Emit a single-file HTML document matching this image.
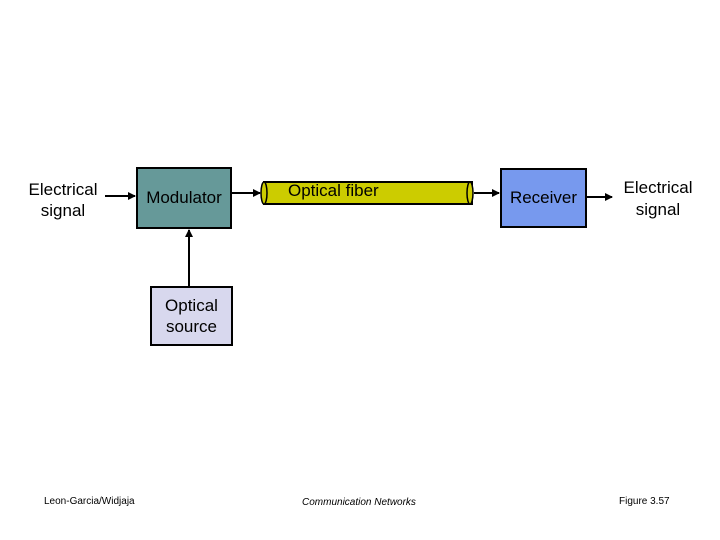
<!DOCTYPE html>
<html><head><style>
body{margin:0;width:720px;height:540px;background:#fff;font-family:"Liberation Sans",sans-serif;position:relative;overflow:hidden}
.t{position:absolute;text-align:center;color:#000}
.b{position:absolute;border:2px solid #000;box-sizing:border-box;display:flex;align-items:center;justify-content:center;font-size:17px}
</style></head><body>
<div class="t" style="left:18px;top:179px;width:90px;font-size:17px;line-height:21px">Electrical<br>signal</div>
<div class="b" style="left:136px;top:167px;width:96px;height:62px;background:#669999">Modulator</div>
<div class="b" style="left:500px;top:168px;width:87px;height:60px;background:#7799ee">Receiver</div>
<div class="b" style="left:150px;top:286px;width:83px;height:60px;background:#d8d8ee;line-height:21px;text-align:center">Optical<br>source</div>
<div class="t" style="left:612px;top:177px;width:92px;font-size:17px;line-height:22px">Electrical<br>signal</div>
<svg width="720" height="540" style="position:absolute;left:0;top:0">
<defs><marker id="a" markerWidth="8" markerHeight="8" refX="7" refY="4" orient="auto" markerUnits="userSpaceOnUse"><path d="M0,0L8,4L0,8z" fill="#000"/></marker></defs>
<rect x="264" y="182" width="208" height="22" fill="#cccc00" stroke="#000" stroke-width="2"/>
<ellipse cx="264" cy="193" rx="3" ry="11" fill="#cccc00" stroke="#000" stroke-width="1.5"/>
<ellipse cx="470" cy="193" rx="3" ry="11" fill="#cccc00" stroke="#000" stroke-width="1.5"/>
<line x1="105" y1="196" x2="135" y2="196" stroke="#000" stroke-width="2" marker-end="url(#a)"/>
<line x1="232" y1="193" x2="260" y2="193" stroke="#000" stroke-width="2" marker-end="url(#a)"/>
<line x1="474" y1="193" x2="499" y2="193" stroke="#000" stroke-width="2" marker-end="url(#a)"/>
<line x1="587" y1="197" x2="612" y2="197" stroke="#000" stroke-width="2" marker-end="url(#a)"/>
<line x1="189" y1="286" x2="189" y2="230" stroke="#000" stroke-width="2" marker-end="url(#a)"/>
</svg>
<div class="t" style="left:288px;top:181px;font-size:17px">Optical fiber</div>
<div class="t" style="left:44px;top:496px;font-size:10px">Leon-Garcia/Widjaja</div>
<div class="t" style="left:302px;top:497px;font-size:10px;font-style:italic">Communication Networks</div>
<div class="t" style="left:619px;top:496px;font-size:10px">Figure 3.57</div>
</body></html>
